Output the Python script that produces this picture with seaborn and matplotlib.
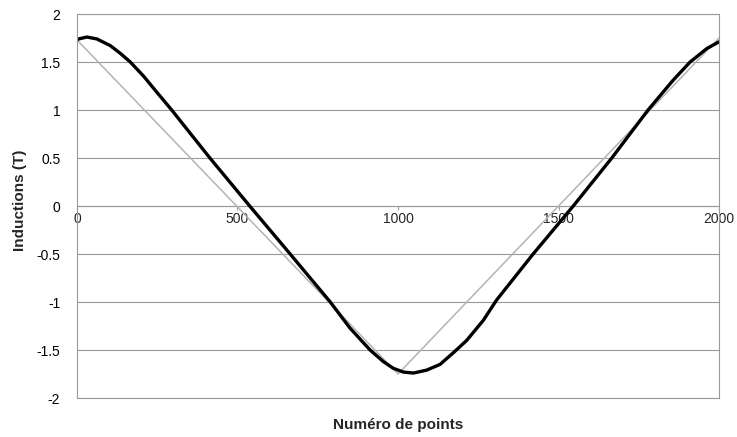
import numpy as np
import pandas as pd
import matplotlib
matplotlib.use("Agg")
import matplotlib.pyplot as plt
import seaborn as sns

# Measured induction over one period (black curve)
points_measured = [0, 5, 31, 62, 104, 135, 166, 208, 250, 295, 414, 538, 664, 789, 850,
                   913, 954, 985, 1017, 1048, 1089, 1131, 1172, 1214, 1266, 1307, 1421,
                   1546, 1666, 1779, 1857, 1910, 1962, 2000]
b_measured = [1.73, 1.74, 1.76, 1.74, 1.67, 1.59, 1.50, 1.35, 1.18, 1.00, 0.50, 0.00,
              -0.50, -1.00, -1.27, -1.50, -1.62, -1.69, -1.73, -1.74, -1.71, -1.65,
              -1.53, -1.40, -1.19, -0.98, -0.50, 0.00, 0.50, 1.00, 1.31, 1.50, 1.64, 1.71]

# Triangular reference induction (grey curve)
points_ref = [0, 1000, 2000]
b_ref = [1.73, -1.75, 1.75]

x_ticks = [0, 500, 1000, 1500, 2000]
y_ticks = [-2, -1.5, -1, -0.5, 0, 0.5, 1, 1.5, 2]
y_ticklabels = ["-2", "-1.5", "-1", "-0.5", "0", "0.5", "1", "1.5", "2"]

sns.set_style("white")
plt.rcParams["font.family"] = ["Liberation Sans", "DejaVu Sans"]

df_meas = pd.DataFrame({"points": points_measured, "B": b_measured})
df_ref = pd.DataFrame({"points": points_ref, "B": b_ref})

fig = plt.figure(figsize=(7.37, 4.37), dpi=100)
ax = fig.add_axes([77 / 737, 39 / 437, 642 / 737, 384 / 437])

sns.lineplot(data=df_ref, x="points", y="B", ax=ax, color="#b4b4b4", lw=1.1,
             sort=False, estimator=None)
sns.lineplot(data=df_meas, x="points", y="B", ax=ax, color="black", lw=2.4,
             sort=False, estimator=None)
for line in ax.lines:
    line.set_solid_joinstyle("round")
    line.set_solid_capstyle("round")

ax.set_xlim(0, 2000)
ax.set_ylim(-2, 2)
ax.set_yticks(y_ticks)
ax.set_yticklabels(y_ticklabels)
ax.yaxis.grid(True, color="#9a9a9a", lw=0.8)
ax.set_axisbelow(True)
for s in ax.spines.values():
    s.set_color("#9a9a9a")
    s.set_linewidth(0.8)

ax.tick_params(axis="y", length=0, pad=12, labelsize=10, colors="black")
ax.tick_params(axis="x", length=0, labelbottom=False)
ax.set_xticks(x_ticks)

# x axis crossing at B = 0
sec = ax.secondary_xaxis(0.5)
sec.xaxis.set_ticks_position("bottom")
sec.set_xticks(x_ticks)
sec.set_xticklabels([str(v) for v in x_ticks])
for s in sec.spines.values():
    s.set_color("#9a9a9a")
    s.set_linewidth(0.8)
sec.tick_params(axis="x", which="both", bottom=True, top=False, labelbottom=True,
                labeltop=False, length=3, width=0.8, color="#9a9a9a", pad=1, labelsize=10)

ax.set_xlabel("")
ax.set_ylabel("")
fig.text(398 / 737, 1 - 425 / 437, "Numéro de points", ha="center", va="center",
         fontsize=11, fontweight="bold")
fig.text(20 / 737, 1 - 200 / 437, "Inductions (T)", ha="center", va="center",
         rotation=90, fontsize=11, fontweight="bold")

fig.savefig("out.png", dpi=100)
